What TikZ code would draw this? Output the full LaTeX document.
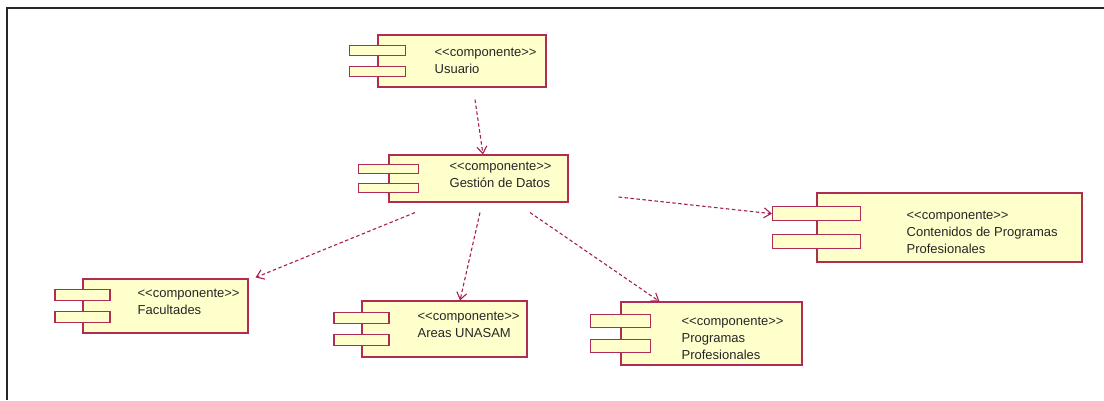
\documentclass[tikz,border=0pt]{standalone}
\usepackage{fontspec}
\setmainfont{Liberation Sans}[Ligatures=TeXOff]
\usepackage{tikz}
\usetikzlibrary{positioning, arrows.meta, calc}
\definecolor{compfill}{RGB}{255, 255, 204}
\definecolor{compline}{RGB}{175, 45, 85}
\definecolor{depline}{RGB}{165, 30, 85}
\newcommand{\stereo}{<<componente>>}
% two small tabs on the left side of a component body
\newcommand{\comptabs}[3]{%
  \node[tab, minimum width=#2pt, minimum height=#3pt] (#1-a) at ($(#1.west)+(0,#3)$) {};
  \node[tab, minimum width=#2pt, minimum height=#3pt] (#1-b) at ($(#1.west)+(0,-#3)$) {};}
\tikzset{
  body/.style={draw=compline, fill=compfill, line width=1.1pt, inner sep=0pt},
  tab/.style={draw=compline, fill=compfill, line width=1.1pt, inner sep=0pt},
  txt/.style={align=left, inner sep=0pt, text=black!85, font=\fontsize{13}{17}\selectfont},
  dep/.style={draw=depline, line width=1.1pt, dash pattern=on 3.5pt off 2.5pt,
              -{Straight Barb[length=7pt, width=10pt]}},
}
\begin{document}
\begin{tikzpicture}[x=1pt, y=1pt]
  \useasboundingbox (0,0) rectangle (1104,400);
  % Frame
  \draw[line width=2pt, black!85] (7,0) -- (7,391.5) -- (1104,391.5);
  % Usuario
  \node[body, minimum width=168pt, minimum height=52pt] (usr) at (462,339) {};
  \comptabs{usr}{56}{10.4}
  \node[txt, right=57pt of usr.west] (usr-t) {\stereo\\Usuario};
  % Gestion de Datos
  \node[body, minimum width=179pt, minimum height=47pt] (gd) at (478.5,221.5) {};
  \comptabs{gd}{60}{9.4}
  \node[txt, right=61pt of gd.west, yshift=3.5pt] (gd-t) {\stereo\\Gestión de Datos};
  % Facultades
  \node[body, minimum width=165pt, minimum height=54pt] (fac) at (165.5,94) {};
  \comptabs{fac}{55}{10.8}
  \node[txt, right=55pt of fac.west, yshift=4pt] (fac-t) {\stereo\\Facultades};
  % Areas UNASAM
  \node[body, minimum width=165pt, minimum height=56pt] (are) at (444.5,71) {};
  \comptabs{are}{55}{11.2}
  \node[txt, right=56pt of are.west, yshift=4pt] (are-t) {\stereo\\Areas UNASAM};
  % Programas Profesionales
  \node[body, minimum width=181pt, minimum height=63pt] (pro) at (711.5,66.5) {};
  \comptabs{pro}{60}{12.6}
  \node[txt, right=61pt of pro.west, yshift=-5pt] (pro-t) {\stereo\\Programas\\Profesionales};
  % Contenidos de Programas Profesionales
  \node[body, minimum width=265pt, minimum height=69pt] (con) at (949.5,172.5) {};
  \comptabs{con}{88}{13.8}
  \node[txt, right=90pt of con.west, yshift=-4.5pt] (con-t) {\stereo\\Contenidos de Programas\\Profesionales};
  % Dependencies
  \draw[dep] ([xshift=13pt, yshift=-12pt]usr.south) -- ([xshift=4.5pt]gd.north);
  \draw[dep] ([xshift=-63.5pt, yshift=-10pt]gd.south) -- ([xshift=7pt, yshift=1pt]fac.north east);
  \draw[dep] ([xshift=1.5pt, yshift=-10pt]gd.south) -- ([xshift=15.5pt]are.north);
  \draw[dep] ([xshift=51.5pt, yshift=-10pt]gd.south) -- ([xshift=39pt]pro.north west);
  \draw[dep] ([xshift=50pt, yshift=-18.5pt]gd.east) -- (con-a.west);
\end{tikzpicture}
\end{document}
